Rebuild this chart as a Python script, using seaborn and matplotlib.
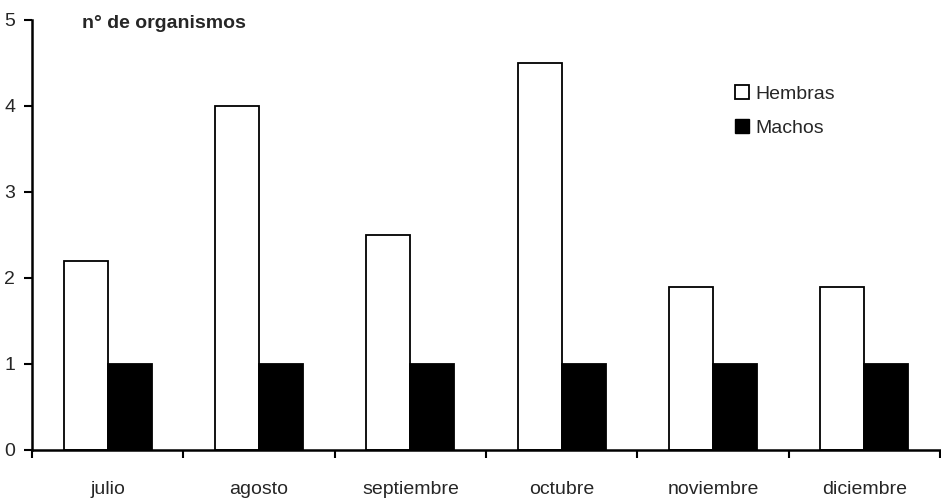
import matplotlib
matplotlib.use("Agg")
import matplotlib.pyplot as plt
import seaborn as sns
import pandas as pd
import numpy as np
from matplotlib.patches import Patch

meses = ["julio", "agosto", "septiembre", "octubre", "noviembre", "diciembre"]
hembras = [2.2, 4.0, 2.5, 4.5, 1.9, 1.9]
machos = [1, 1, 1, 1, 1, 1]
series = ["Hembras", "Machos"]
yticks = [0, 1, 2, 3, 4, 5]

df = pd.DataFrame({
    "mes": meses * 2,
    "sexo": [series[0]] * len(meses) + [series[1]] * len(meses),
    "n": hembras + machos,
})

sns.set_style("ticks")
plt.rcParams["font.family"] = ["Liberation Sans", "DejaVu Sans"]

fig = plt.figure(figsize=(9.41, 4.99), dpi=100)
ax = fig.add_axes([32 / 941, 1 - 450 / 499, 1 - 32 / 941 - 0.001, (450 - 20) / 499])

sns.barplot(data=df, x="mes", y="n", hue="sexo", order=meses, hue_order=series,
            palette=["white", "black"], edgecolor="black", linewidth=1.3,
            width=0.58, saturation=1, legend=False, ax=ax)

ax.set_xlim(-0.5, len(meses) - 0.5)
ax.set_ylim(0, 5)
ax.set_yticks(yticks)
ax.set_xticks(range(len(meses)))
ax.set_xticklabels(meses)
ax.set_xticks(np.arange(-0.5, len(meses)), minor=True)
ax.tick_params(axis="x", which="major", length=0, pad=22, labelsize=14)
ax.tick_params(axis="x", which="minor", length=6, width=1.5, direction="out", color="black")
ax.tick_params(axis="y", length=6, width=1.5, direction="out", labelsize=14, pad=6, color="black")
ax.set_xlabel("")
ax.set_ylabel("")
for s in ["top", "right"]:
    ax.spines[s].set_visible(False)
for s in ["left", "bottom"]:
    ax.spines[s].set_linewidth(1.8)
    ax.spines[s].set_color("black")

fig.text(82 / 941, 1 - 24 / 499, "n° de organismos", fontsize=14, fontweight="bold",
         va="center", ha="left")

handles = [Patch(facecolor="white", edgecolor="black", linewidth=1.3, label=series[0]),
           Patch(facecolor="black", edgecolor="black", label=series[1])]
fig.legend(handles=handles, loc="upper left", bbox_to_anchor=(727 / 941, 1 - 77 / 499),
           frameon=False, fontsize=14, handlelength=0.75, handleheight=0.75,
           handletextpad=0.3, labelspacing=0.85, borderaxespad=0)

fig.savefig("out.png", dpi=100)
